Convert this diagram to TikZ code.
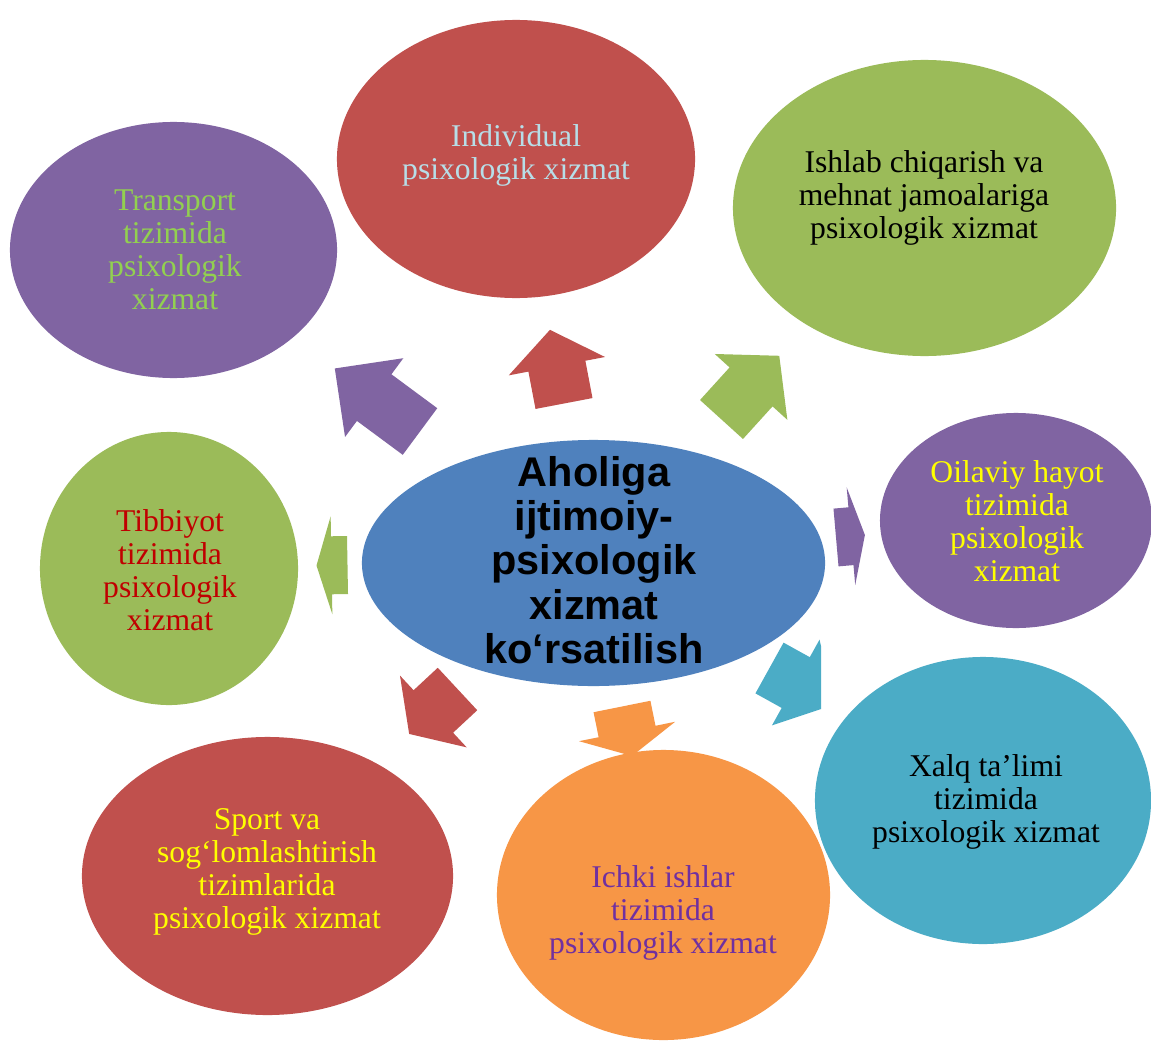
\documentclass[tikz,border=0pt]{standalone}
\usepackage{fontspec}
\setmainfont{Liberation Serif}
\newfontfamily\arialfont{Liberation Sans}
\usepackage{tikz}
\usetikzlibrary{shapes.geometric}

\definecolor{accblue}{HTML}{4F81BD}
\definecolor{accred}{HTML}{C0504D}
\definecolor{accgreen}{HTML}{9BBB59}
\definecolor{accpurple}{HTML}{8064A2}
\definecolor{accteal}{HTML}{4BACC6}
\definecolor{accorange}{HTML}{F79646}
\definecolor{txtaqua}{HTML}{B7DEE8}
\definecolor{txtlime}{HTML}{92D050}
\definecolor{txtdarkred}{HTML}{C00000}
\definecolor{txtviolet}{HTML}{7030A0}
\definecolor{txtyellow}{HTML}{FFFF00}

\tikzset{
  bubble/.style={ellipse, inner sep=0pt},
  caption/.style={align=center, font=\fontsize{22.5}{23.4}\selectfont},
}

% colour, tail point, angle, length, head length
\newcommand{\blockarrow}[5]{
  \fill[#1, shift={(#2)}, rotate=#3]
    (0,-29) -- ({#4-#5},-29) -- ({#4-#5},-49) -- (#4,0)
    -- ({#4-#5},49) -- ({#4-#5},29) -- (0,29) -- cycle;
}

\begin{document}
\begin{tikzpicture}[x=0.025cm, y=-0.025cm]

\path[fill=white, use as bounding box] (0,0) rectangle (1151,1045);

% bubbles
\node[bubble, fill=accblue, minimum width=11.575cm, minimum height=6.15cm] (centre) at (593.5,563) {};
\node[bubble, fill=accred, minimum width=8.95cm, minimum height=6.95cm] (individual) at (516,159) {};
\node[bubble, fill=accgreen, minimum width=9.575cm, minimum height=7.4cm] (ishlab) at (924.5,208) {};
\node[bubble, fill=accpurple, minimum width=8.175cm, minimum height=6.4cm] (transport) at (173.5,250) {};
\node[bubble, fill=accgreen, minimum width=6.45cm, minimum height=6.825cm] (tibbiyot) at (169,568.5) {};
\node[bubble, fill=accpurple, minimum width=6.8cm, minimum height=5.375cm] (oilaviy) at (1016,520.5) {};
\node[bubble, fill=accteal, minimum width=8.4cm, minimum height=7.175cm] (xalq) at (983,800.5) {};
\node[bubble, fill=accorange, minimum width=8.325cm, minimum height=7.25cm] (ichki) at (663.5,895) {};
\node[bubble, fill=accred, minimum width=9.275cm, minimum height=6.95cm] (sport) at (267.5,876) {};

% texts
\node[align=center, font=\arialfont\bfseries\fontsize{29.5}{31.5}\selectfont] (centretxt) at (594,560)
  {Aholiga\\ ijtimoiy-\\ psixologik\\ xizmat\\ ko‘rsatilish};
\node[caption, text=txtaqua] (individualtxt) at (516,155) {Individual\\ psixologik xizmat};
\node[caption, text=black] (ishlabtxt) at (924,198) {Ishlab chiqarish va\\ mehnat jamoalariga\\ psixologik xizmat};
\node[caption, text=txtlime] (transporttxt) at (175,250) {Transport\\ tizimida\\ psixologik\\ xizmat};
\node[caption, text=txtdarkred] (tibbiyottxt) at (170,570) {Tibbiyot\\ tizimida\\ psixologik\\ xizmat};
\node[caption, text=txtyellow] (oilaviytxt) at (1017,521) {Oilaviy hayot\\ tizimida\\ psixologik\\ xizmat};
\node[caption, text=black] (xalqtxt) at (986,802) {Xalq ta’limi\\ tizimida\\ psixologik xizmat};
\node[caption, text=txtviolet] (ichkitxt) at (663,913) {Ichki ishlar\\ tizimida\\ psixologik xizmat};
\node[caption, text=txtyellow] (sporttxt) at (267,872) {Sport va\\ sog‘lomlashtirish\\ tizimlarida\\ psixologik xizmat};

% arrows
\blockarrow{accpurple}{420,431.5}{143.5}{106}{49}
\blockarrow{accred}{564,403.5}{100.8}{75}{37}
\blockarrow{accgreen}{721.5,419.5}{47.8}{86}{42}
\blockarrow{accgreen}{347.5,565}{181}{31}{15}
\blockarrow{accpurple}{836,537.5}{5}{29}{14}
\blockarrow{accred}{457.5,689}{222.9}{66}{33}
\blockarrow{accorange}{622,706.5}{-78.6}{50.5}{25}
\begin{scope}
  \clip (0,0) rectangle (821,1045);
  \blockarrow{accteal}{769.5,668}{-29}{75}{45}
\end{scope}

\end{tikzpicture}
\end{document}
